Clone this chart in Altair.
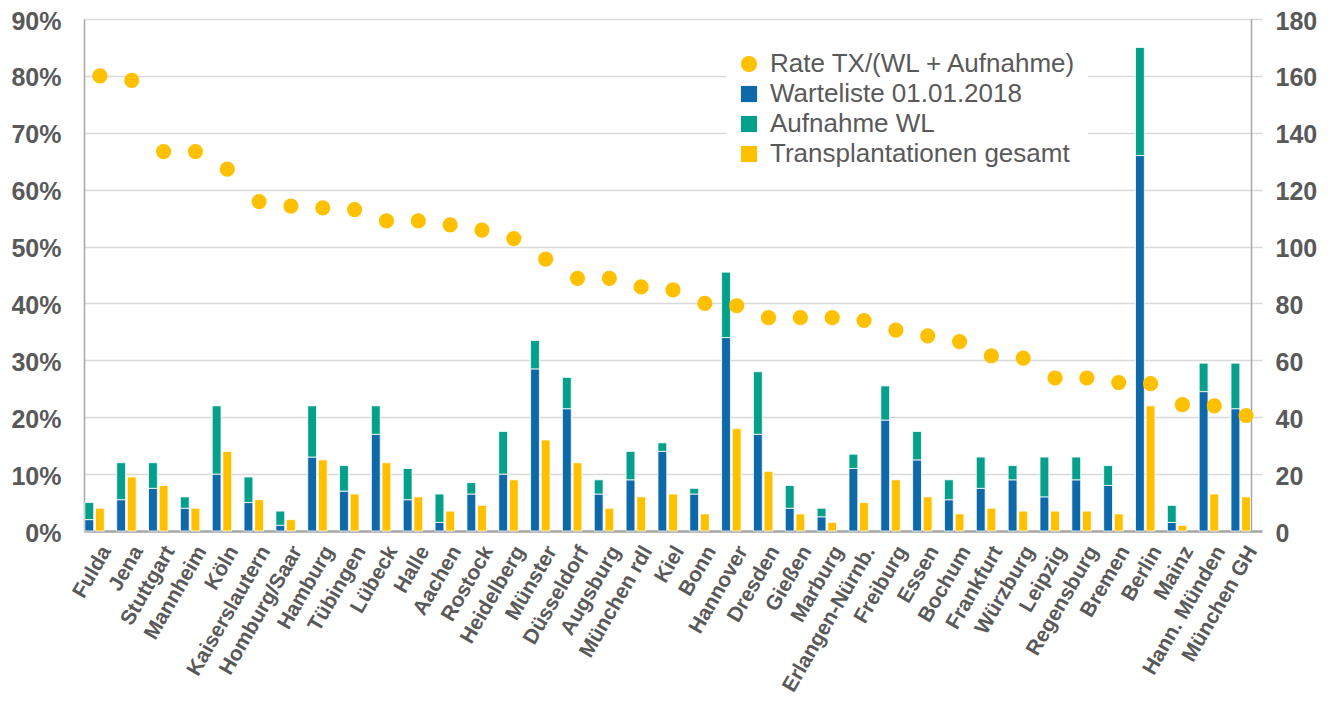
import altair as alt
import pandas as pd

cities = ["Fulda", "Jena", "Stuttgart", "Mannheim", "Köln", "Kaiserslautern", "Homburg/Saar",
          "Hamburg", "Tübingen", "Lübeck", "Halle", "Aachen", "Rostock", "Heidelberg", "Münster",
          "Düsseldorf", "Augsburg", "München rdl", "Kiel", "Bonn", "Hannover", "Dresden", "Gießen",
          "Marburg", "Erlangen-Nürnb.", "Freiburg", "Essen", "Bochum", "Frankfurt", "Würzburg",
          "Leipzig", "Regensburg", "Bremen", "Berlin", "Mainz", "Hann. Münden", "München GH"]

warteliste = [4, 11, 15, 8, 20, 10, 2, 26, 14, 34, 11, 3, 13, 20, 57, 43, 13, 18, 28, 13,
              68, 34, 8, 5, 22, 39, 25, 11, 15, 18, 12, 18, 16, 132, 3, 49, 43]
aufnahme = [6, 13, 9, 4, 24, 9, 5, 18, 9, 10, 11, 10, 4, 15, 10, 11, 5, 10, 3, 2,
            23, 22, 8, 3, 5, 12, 10, 7, 11, 5, 14, 8, 7, 38, 6, 10, 16]
transplant = [8, 19, 16, 8, 28, 11, 4, 25, 13, 24, 12, 7, 9, 18, 32, 24, 8, 12, 13, 6,
              36, 21, 6, 3, 10, 18, 12, 6, 8, 7, 7, 7, 6, 44, 2, 13, 12]
rate_pct = [80.0, 79.2, 66.7, 66.7, 63.6, 57.9, 57.1, 56.8, 56.5, 54.5, 54.5, 53.8, 52.9, 51.4,
            47.8, 44.4, 44.4, 42.9, 42.4, 40.0, 39.6, 37.5, 37.5, 37.5, 37.0, 35.3, 34.3, 33.3,
            30.8, 30.4, 26.9, 26.9, 26.1, 25.9, 22.2, 22.0, 20.3]

series_names = ["Rate TX/(WL + Aufnahme)", "Warteliste 01.01.2018", "Aufnahme WL",
                "Transplantationen gesamt"]
series_colors = ["#FFC000", "#0E69AB", "#04A08C", "#FFC000"]
series_shapes = ["circle", "square", "square", "square"]

rows = []
for i, c in enumerate(cities):
    rows.append({"city": c, "series": series_names[1], "value": warteliste[i], "grp": "stack", "ord": 0})
    rows.append({"city": c, "series": series_names[2], "value": aufnahme[i], "grp": "stack", "ord": 1})
    rows.append({"city": c, "series": series_names[3], "value": transplant[i], "grp": "tx", "ord": 0})
df_bars = pd.DataFrame(rows)
df_rate = pd.DataFrame({"city": cities, "series": series_names[0],
                        "rate": [r / 100 for r in rate_pct]})

FONT = "Liberation Sans"
GRAY = "#595959"
AXISLINE = "#A6A6A6"

xscale = alt.Scale(range=[0, 1178], paddingInner=0, paddingOuter=0)
xaxis = alt.Axis(title=None, labelAngle=300, labelAlign="right", labelBaseline="top",
                 labelFontSize=21, labelFontWeight="bold", labelColor=GRAY, labelFont=FONT,
                 labelPadding=11, labelOffset=-3, ticks=False, domainColor=AXISLINE,
                 domainWidth=2.5, labelLimit=0, grid=False)

color_scale = alt.Scale(domain=series_names, range=series_colors)
shape_scale = alt.Scale(domain=series_names, range=series_shapes)
legend = alt.Legend(title=None, orient="none", legendX=642, legendY=22, padding=10,
                    fillColor="white", labelFontSize=26, labelFont=FONT, labelColor=GRAY,
                    symbolSize=260, rowPadding=4, labelOffset=8, labelLimit=0,
                    symbolStrokeWidth=0, symbolOpacity=1)

bars = alt.Chart(df_bars).mark_bar(stroke="white", strokeWidth=0.8).encode(
    x=alt.X("city:N", sort=cities, scale=xscale, axis=xaxis),
    xOffset=alt.XOffset("grp:N", scale=alt.Scale(domain=["stack", "tx", "pad"],
                                                 paddingInner=0.17, paddingOuter=0.08)),
    y=alt.Y("value:Q", stack="zero", scale=alt.Scale(domain=[0, 180], nice=False),
            axis=alt.Axis(orient="right", title=None, values=list(range(0, 181, 20)),
                          labelFontSize=25, labelFontWeight="bold", labelColor=GRAY,
                          labelFont=FONT, labelPadding=24, ticks=False, grid=False,
                          labelOffset=2,
                          domainColor=AXISLINE, domainWidth=1.5, labelAlign="left")),
    color=alt.Color("series:N", scale=color_scale, legend=legend),
    order=alt.Order("ord:Q"),
)

points = alt.Chart(df_rate).mark_point(filled=True, opacity=1, size=230).encode(
    x=alt.X("city:N", sort=cities, scale=xscale, axis=xaxis),
    y=alt.Y("rate:Q", scale=alt.Scale(domain=[0, 0.9], nice=False),
            axis=alt.Axis(orient="left", title=None, format=".0%",
                          values=[0, 0.1, 0.2, 0.3, 0.4, 0.5, 0.6, 0.7, 0.8, 0.9],
                          labelFontSize=25, labelFontWeight="bold", labelColor=GRAY,
                          labelFont=FONT, labelPadding=23, ticks=False, grid=True,
                          labelOffset=2,
                          gridColor="#D9D9D9", gridWidth=1.6,
                          domainColor=AXISLINE, domainWidth=1.5)),
    color=alt.Color("series:N", scale=color_scale, legend=legend),
    shape=alt.Shape("series:N", scale=shape_scale, legend=legend),
)

chart = alt.layer(bars, points).resolve_scale(y="independent").properties(
    width=1167, height=512,
    autosize=alt.AutoSizeParams(type="none"),
    padding={"left": 76, "top": 11, "right": 74, "bottom": 165},
).configure_view(stroke=None).configure(background="white")

chart.save("out.html", embed_options={"renderer": "svg", "actions": False})
